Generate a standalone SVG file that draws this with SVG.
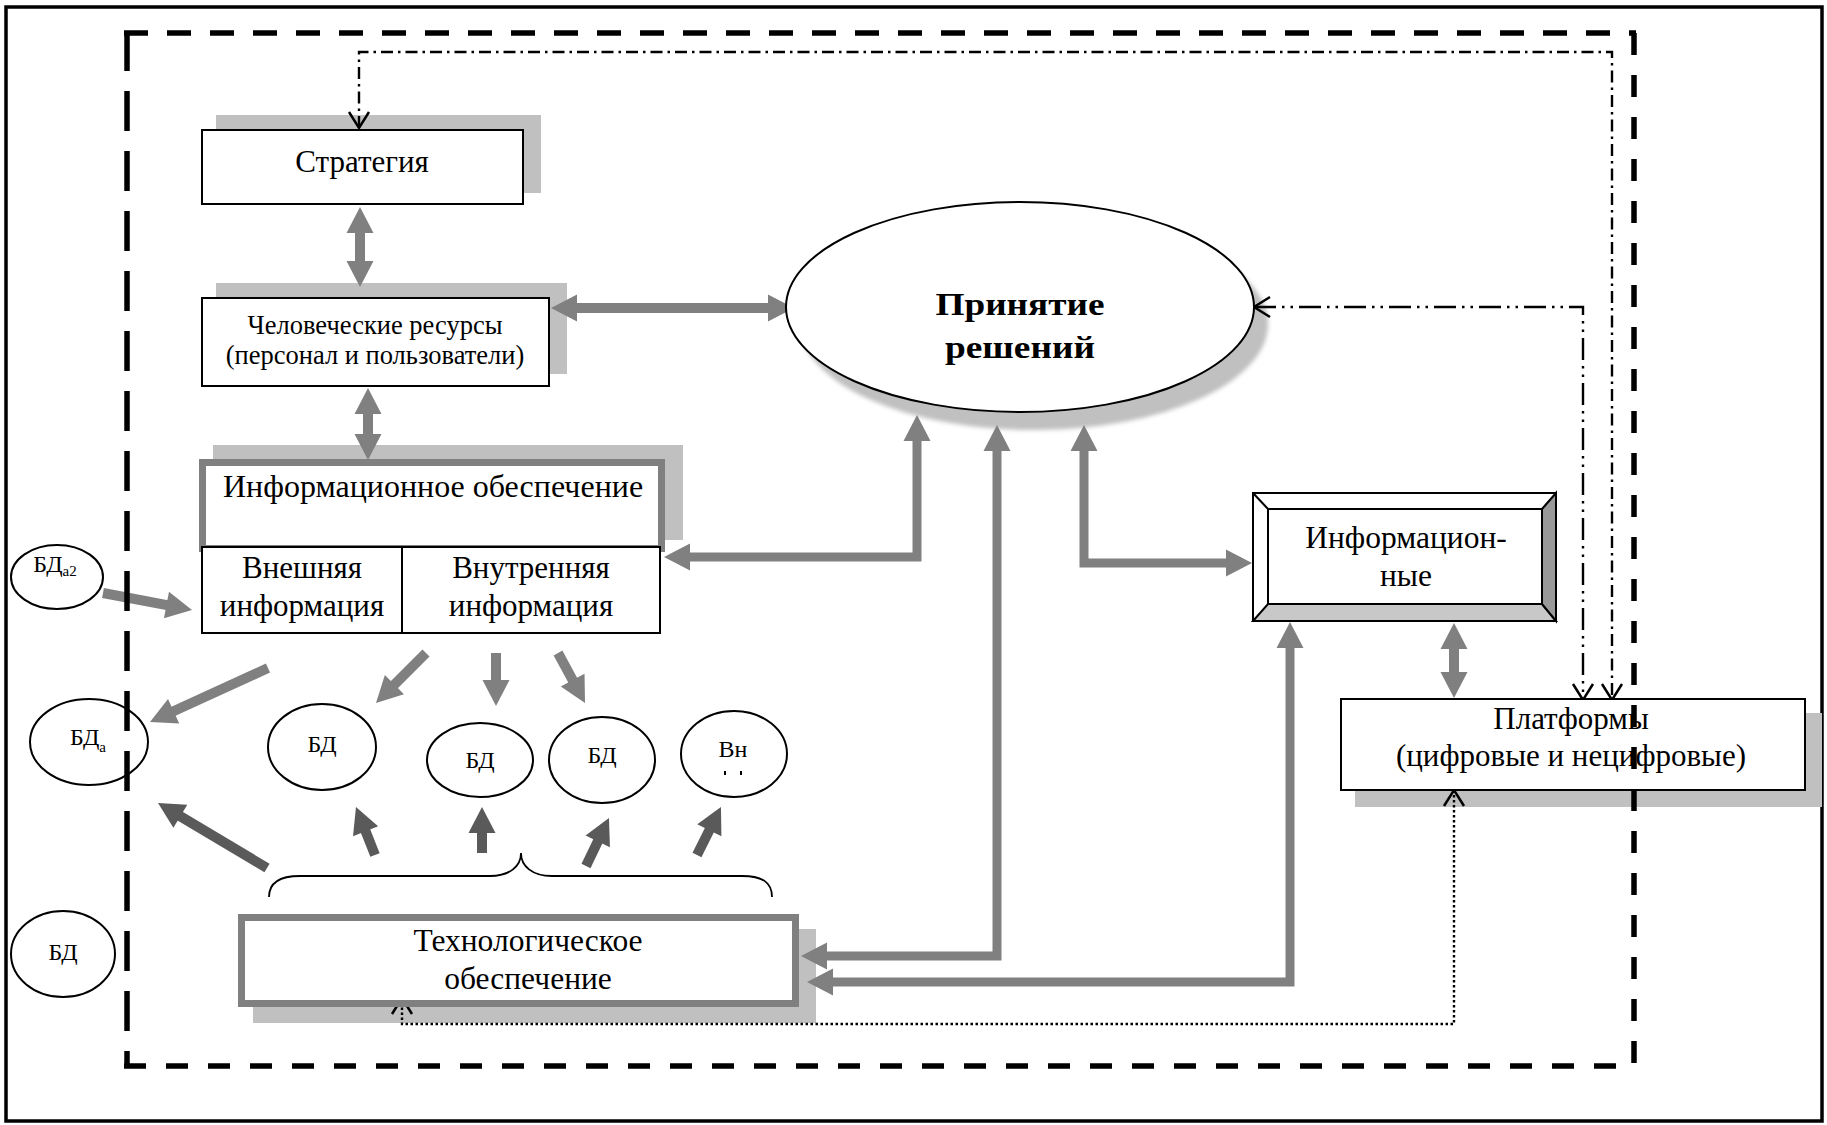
<svg xmlns="http://www.w3.org/2000/svg" width="1827" height="1125" viewBox="0 0 1827 1125">
<style>
text{font-family:"Liberation Serif","Times New Roman",serif;fill:#000;text-anchor:middle}
.box{fill:#fff;stroke:#000;stroke-width:2}
.shadow{fill:#c0c0c0}
.gbox{fill:#fff;stroke:#808080;stroke-width:7}
.circ{fill:#fff;stroke:#000;stroke-width:2}
.arr{fill:#808080}
.shaft{stroke:#808080;stroke-width:10;fill:none}
.dshaft{stroke:#5a5a5a;stroke-width:10;fill:none}
.dd{fill:none;stroke:#000;stroke-width:2.4}
.frame{fill:none;stroke:#000;stroke-width:5.5}
</style>
<defs>
<marker id="ah" markerUnits="userSpaceOnUse" markerWidth="26" markerHeight="27" refX="14" refY="13.5" orient="auto" overflow="visible"><path d="M0,0 L26,13.5 L0,27 Z" fill="#808080"/></marker>
<marker id="ahd" markerUnits="userSpaceOnUse" markerWidth="26" markerHeight="27" refX="14" refY="13.5" orient="auto" overflow="visible"><path d="M0,0 L26,13.5 L0,27 Z" fill="#5a5a5a"/></marker>
<marker id="ch" markerUnits="userSpaceOnUse" markerWidth="18" markerHeight="22" refX="16" refY="10" orient="auto-start-reverse" overflow="visible"><path d="M0,0 L16,10 L0,20" fill="none" stroke="#000" stroke-width="2.5"/></marker>
<filter id="blur" x="-10%" y="-10%" width="120%" height="120%"><feGaussianBlur stdDeviation="2"/></filter>
</defs>

<rect x="6" y="7" width="1816" height="1114" fill="#fff" stroke="#000" stroke-width="3.5"/>

<g id="shadows">
<rect class="shadow" x="216" y="115" width="325" height="78"/>
<rect class="shadow" x="216" y="283" width="351" height="91"/>
<rect class="shadow" x="213" y="445" width="470" height="95"/>
<rect class="shadow" x="253" y="929" width="563" height="94"/>
<rect class="shadow" x="1355" y="713" width="467" height="94"/>
<ellipse class="shadow" cx="1034" cy="324" rx="234" ry="106" filter="url(#blur)"/>
</g>

<g id="connectors">
<polygon class="arr" points="360,207 373.5,233 365,233 365,261 373.5,261 360,287 346.5,261 355,261 355,233 346.5,233"/>
<polygon class="arr" points="368,388 381.5,414 373,414 373,434 381.5,434 368,460 354.5,434 363,434 363,414 354.5,414"/>
<polygon class="arr" points="551,308 577,294.5 577,303 768,303 768,294.5 794,308 768,321.5 768,313 577,313 577,321.5"/>
<path class="arr" d="M664,557 L690,543.5 L690,552.5 L912.5,552.5 L912.5,441 L903.5,441 L917,415 L930.5,441 L921.5,441 L921.5,561.5 L690,561.5 L690,570.5 Z"/>
<path class="arr" d="M1084,425 L1097.5,451 L1088.5,451 L1088.5,558.5 L1226,558.5 L1226,549.5 L1252,563 L1226,576.5 L1226,567.5 L1079.5,567.5 L1079.5,451 L1070.5,451 Z"/>
<path class="arr" d="M997,425 L1010.5,451 L1001.5,451 L1001.5,960.5 L827,960.5 L827,969.5 L801,956 L827,942.5 L827,951.5 L992.5,951.5 L992.5,451 L983.5,451 Z"/>
<path class="arr" d="M1290,622 L1303.5,648 L1294.5,648 L1294.5,986.5 L833,986.5 L833,995.5 L807,982 L833,968.5 L833,977.5 L1285.5,977.5 L1285.5,648 L1276.5,648 Z"/>
<polygon class="arr" points="1454,623 1467.5,649 1459,649 1459,672 1467.5,672 1454,698 1440.5,672 1449,672 1449,649 1440.5,649"/>
<line class="shaft" x1="103" y1="593" x2="180.2" y2="607.7" marker-end="url(#ah)"/>
<line class="shaft" x1="268" y1="668" x2="160.9" y2="717" marker-end="url(#ah)"/>
<line class="shaft" x1="426" y1="653" x2="384.5" y2="694.5" marker-end="url(#ah)"/>
<line class="shaft" x1="496" y1="653" x2="496" y2="694" marker-end="url(#ah)"/>
<line class="shaft" x1="558" y1="653" x2="579.3" y2="692.4" marker-end="url(#ah)"/>
<line class="dshaft" x1="267" y1="868" x2="168.3" y2="809.1" marker-end="url(#ahd)"/>
<line class="dshaft" x1="375" y1="855" x2="360.4" y2="818.2" marker-end="url(#ahd)"/>
<line class="dshaft" x1="482" y1="853" x2="482" y2="819" marker-end="url(#ahd)"/>
<line class="dshaft" x1="586" y1="866" x2="603.8" y2="828.8" marker-end="url(#ahd)"/>
<line class="dshaft" x1="697" y1="855" x2="715.6" y2="817.7" marker-end="url(#ahd)"/>
<path d="M269,897 C269,882 280,876 300,876 L490,876 C510,876 521,866 521,853 C521,866 532,876 552,876 L742,876 C762,876 772,882 772,897" fill="none" stroke="#000" stroke-width="1.8"/>
<path class="dd" d="M359,128 V52 H1612 V700" stroke-dasharray="12 5 2.5 5" marker-start="url(#ch)" marker-end="url(#ch)"/>
<path class="dd" d="M1254,307 H1583 V700" stroke-dasharray="22 6 2.5 6 2.5 6" marker-start="url(#ch)" marker-end="url(#ch)"/>
<path class="dd" d="M1454,790 V1024 H402 V998" stroke-dasharray="2.5 2.5" marker-start="url(#ch)" marker-end="url(#ch)"/>
</g>

<g id="strategy">
<rect class="box" x="202" y="130" width="321" height="74"/>
<text x="362" y="172" font-size="31">Стратегия</text>
</g>

<g id="hr">
<rect class="box" x="202" y="298" width="347" height="88"/>
<text x="375" y="334" font-size="26.5">Человеческие ресурсы</text>
<text x="375" y="364" font-size="26.5">(персонал и пользователи)</text>
</g>

<g id="info-support">
<rect class="gbox" x="202.5" y="462.5" width="459" height="86"/>
<text x="433" y="497" font-size="32">Информационное обеспечение</text>
<rect class="box" x="202" y="547" width="458" height="86"/>
<line x1="402" y1="547" x2="402" y2="633" stroke="#000" stroke-width="2"/>
<text x="302" y="578" font-size="31">Внешняя</text>
<text x="302" y="616" font-size="31">информация</text>
<text x="531" y="578" font-size="31">Внутренняя</text>
<text x="531" y="616" font-size="31">информация</text>
</g>

<g id="decision">
<ellipse class="box" cx="1020" cy="307" rx="234" ry="105"/>
<text x="1020" y="315" font-size="31" font-weight="bold" textLength="169" lengthAdjust="spacingAndGlyphs">Принятие</text>
<text x="1020" y="358" font-size="31" font-weight="bold" textLength="150" lengthAdjust="spacingAndGlyphs">решений</text>
</g>

<g id="informational">
<rect x="1253" y="493" width="303" height="128" fill="#fff" stroke="#000" stroke-width="2"/>
<polygon points="1253,621 1268,604 1542,604 1556,621" fill="#c8c8c8" stroke="#000" stroke-width="2"/>
<polygon points="1556,493 1542,509 1542,604 1556,621" fill="#999" stroke="#000" stroke-width="2"/>
<line x1="1253" y1="493" x2="1268" y2="509" stroke="#000" stroke-width="2"/>
<rect x="1268" y="509" width="274" height="95" fill="#fff" stroke="#000" stroke-width="2"/>
<text x="1406" y="548" font-size="31.5">Информацион-</text>
<text x="1406" y="586" font-size="31.5">ные</text>
</g>

<g id="platforms">
<rect class="box" x="1341" y="699" width="464" height="91"/>
<text x="1571" y="729" font-size="31">Платформы</text>
<text x="1571" y="766" font-size="31">(цифровые и нецифровые)</text>
</g>

<g id="tech">
<rect class="gbox" x="241.5" y="917.5" width="554" height="86"/>
<text x="528" y="951" font-size="31.5">Технологическое</text>
<text x="528" y="989" font-size="31.5">обеспечение</text>
</g>

<g id="bda2">
<ellipse class="circ" cx="57" cy="577" rx="46" ry="32"/>
<text x="55" y="572" font-size="24">БД<tspan font-size="15" dy="4">а2</tspan></text>
</g>
<g id="bda">
<ellipse class="circ" cx="89" cy="742" rx="59" ry="43"/>
<text x="88" y="745" font-size="24">БД<tspan font-size="15" dy="7">а</tspan></text>
</g>
<g id="bd1">
<ellipse class="circ" cx="322" cy="747" rx="54" ry="43"/>
<text x="322" y="752" font-size="24">БД</text>
</g>
<g id="bd2">
<ellipse class="circ" cx="480" cy="760" rx="53" ry="37"/>
<text x="480" y="768" font-size="24">БД</text>
</g>
<g id="bd3">
<ellipse class="circ" cx="602" cy="760" rx="53" ry="43"/>
<text x="602" y="763" font-size="24">БД</text>
</g>
<g id="vn">
<ellipse class="circ" cx="734" cy="754" rx="53" ry="43"/>
<text x="733" y="757" font-size="24">Вн</text>
<rect x="724" y="771" width="2" height="4" fill="#000"/>
<rect x="740" y="771" width="2" height="4" fill="#000"/>
</g>
<g id="bd4">
<ellipse class="circ" cx="63" cy="954" rx="52" ry="43"/>
<text x="63" y="960" font-size="24">БД</text>
</g>

<g id="frame">
<line class="frame" x1="124" y1="33" x2="1636" y2="33" stroke-dasharray="24 19"/>
<line class="frame" x1="1634" y1="33" x2="1634" y2="1068" stroke-dasharray="22 20"/>
<line class="frame" x1="124" y1="1066" x2="1634" y2="1066" stroke-dasharray="22 20"/>
<line class="frame" x1="127" y1="31" x2="127" y2="1068" stroke-dasharray="40 20"/>
</g>
</svg>
